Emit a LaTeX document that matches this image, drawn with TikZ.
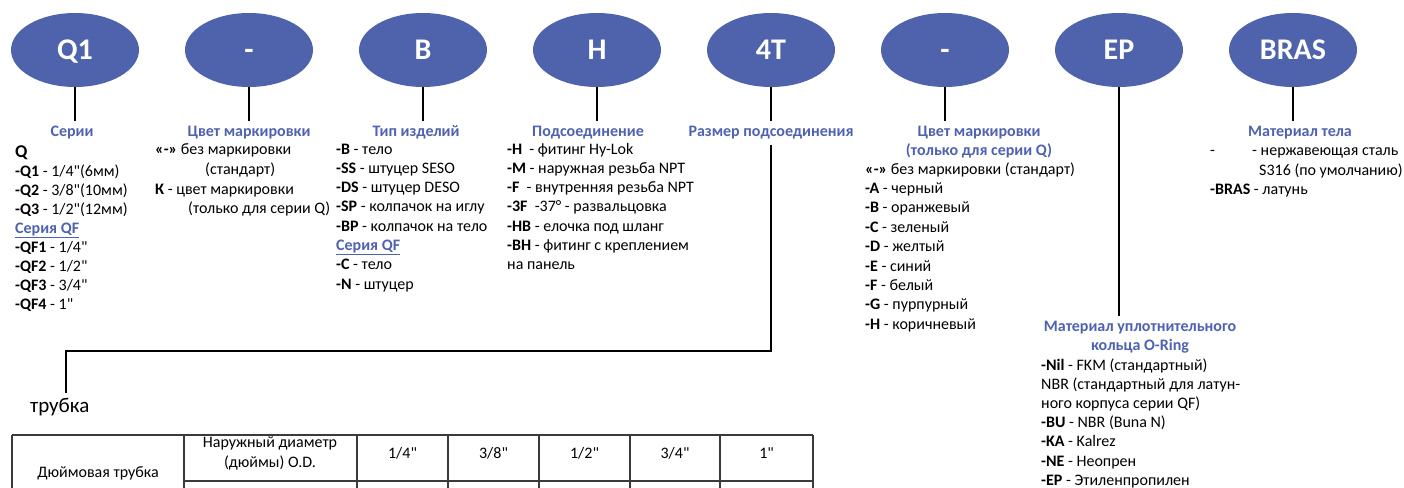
\documentclass[tikz,border=0pt]{standalone}
\usepackage{fontspec}
\setmainfont{Carlito}[Ligatures=TeXOff]
\usetikzlibrary{shapes.geometric}
\definecolor{ovalblue}{HTML}{4F62AC}
\definecolor{headblue}{HTML}{4F62B0}
\definecolor{gridgray}{HTML}{3A3A3A}
\begin{document}
\begin{tikzpicture}[x=1pt,y=-1pt,
 oval/.style={ellipse,fill=ovalblue,minimum width=128pt,minimum height=74pt,inner sep=0pt,text=white,text height=19pt,text depth=0pt,font=\fontsize{30}{30}\selectfont\bfseries},
 head/.style={text=headblue,font=\fontsize{16}{19}\selectfont\bfseries,inner sep=0pt,anchor=base},
 item/.style={font=\fontsize{16}{19}\selectfont,inner sep=0pt,anchor=base west,text=black},
 conn/.style={draw=black,line width=1.1pt},
 gridline/.style={draw=gridgray,line width=1.3pt},
 cell/.style={font=\fontsize{16}{20}\selectfont,inner sep=0pt,align=center,text=black}]
\useasboundingbox (0,0) rectangle (1404,487);
% ovals
\node[oval] (e1) at (75,50) {Q1};
\node[oval] (e2) at (249,50) {-};
\node[oval] (e3) at (423,50) {B};
\node[oval] (e4) at (597,50) {H};
\node[oval] (e5) at (771,50) {4T};
\node[oval] (e6) at (945,50) {-};
\node[oval] (e7) at (1119,50) {EP};
\node[oval] (e8) at (1293,50) {BRAS};
% headings
\node[head] (h1) at (72,136) {Серии};
\node[head] (h2) at (249,136) {Цвет маркировки};
\node[head] (h3) at (416,136) {Тип изделий};
\node[head] (h4) at (588,136) {Подсоединение};
\node[head] (h5) at (771,136) {Размер подсоединения};
\node[head] (h6a) at (979,136) {Цвет маркировки};
\node[head] (h6b) at (979,155) {(только для серии Q)};
\node[head] (h7a) at (1140,331) {Материал уплотнительного};
\node[head] (h7b) at (1140,350) {кольца O-Ring};
\node[head] (h8) at (1300,136) {Материал тела};
% connectors
\draw[conn,shorten >=4pt] (e1.south) -- (e1.south |- h1.north);
\draw[conn,shorten >=4pt] (e2.south) -- (e2.south |- h2.north);
\draw[conn,shorten >=4pt] (e3.south) -- (e3.south |- h3.north);
\draw[conn,shorten >=4pt] (e4.south) -- (e4.south |- h4.north);
\draw[conn,shorten >=4pt] (e5.south) -- (e5.south |- h5.north);
\draw[conn,shorten >=4pt] (e6.south) -- (e6.south |- h6a.north);
\draw[conn,shorten >=4pt] (e7.south) -- (e7.south |- h7a.north);
\draw[conn,shorten >=4pt] (e8.south) -- (e8.south |- h8.north);
\node[inner sep=0pt,anchor=base west,font=\fontsize{21}{22}\selectfont] (tube) at (30,412) {трубка};
\coordinate (c1) at (771,351);
\coordinate (c2) at (66,351);
\draw[conn,shorten <=6pt,shorten >=5pt] (e5.south |- h5.south) -- (c1) -- (c2) -- (c2 |- tube.north);
% column 1
\node[item,font=\fontsize{18}{19}\selectfont\bfseries] (q0) at (15,157) {Q};
\node[item] (q1) at (15,176) {\textbf{-Q1} - 1/4"(6мм)};
\node[item] (q2) at (15,195) {\textbf{-Q2} - 3/8"(10мм)};
\node[item] (q3) at (15,214) {\textbf{-Q3} - 1/2"(12мм)};
\node[item] (q4) at (15,233) {\textcolor{headblue}{\textbf{\underline{Серия QF}}}};
\node[item] (q5) at (15,252) {\textbf{-QF1} - 1/4"};
\node[item] (q6) at (15,271) {\textbf{-QF2} - 1/2"};
\node[item] (q7) at (15,290) {\textbf{-QF3} - 3/4"};
\node[item] (q8) at (15,309) {\textbf{-QF4} - 1"};
% column 2
\node[item] (m1) at (155,154) {\textbf{«-»} без маркировки};
\node[item] (m2) at (205,174) {(стандарт)};
\node[item] (m3) at (155,194) {\textbf{К} - цвет маркировки};
\node[item] (m4) at (188,213) {(только для серии Q)};
% column 3
\node[item] (t1) at (336,154) {\textbf{-B} - тело};
\node[item] (t2) at (336,173.3) {\textbf{-SS} - штуцер SESO};
\node[item] (t3) at (336,192.6) {\textbf{-DS} - штуцер DESO};
\node[item] (t4) at (336,211.9) {\textbf{-SP} - колпачок на иглу};
\node[item] (t5) at (336,231.2) {\textbf{-BP} - колпачок на тело};
\node[item] (t6) at (336,250.5) {\textcolor{headblue}{\textbf{\underline{Серия QF}}}};
\node[item] (t7) at (336,269.8) {\textbf{-C} - тело};
\node[item] (t8) at (336,289.1) {\textbf{-N} - штуцер};
% column 4
\node[item] (p1) at (507,154) {\textbf{-H}\ \ - фитинг Hy-Lok};
\node[item] (p2) at (507,173.3) {\textbf{-M} - наружная резьба NPT};
\node[item] (p3) at (507,192.6) {\textbf{-F}\ \ - внутренняя резьба NPT};
\node[item] (p4) at (507,211.9) {\textbf{-3F}\ \ -37° - развальцовка};
\node[item] (p5) at (507,231.2) {\textbf{-HB} - елочка под шланг};
\node[item] (p6) at (507,250.5) {\textbf{-BH} - фитинг с креплением};
\node[item] (p7) at (507,269.8) {на панель};
% column 6
\node[item] (k1) at (865,174) {\textbf{«-»} без маркировки (стандарт)};
\node[item] (k2) at (865,193.4) {\textbf{-A} - черный};
\node[item] (k3) at (865,212.8) {\textbf{-B} - оранжевый};
\node[item] (k4) at (865,232.2) {\textbf{-C} - зеленый};
\node[item] (k5) at (865,251.6) {\textbf{-D} - желтый};
\node[item] (k6) at (865,271) {\textbf{-E} - синий};
\node[item] (k7) at (865,290.4) {\textbf{-F} - белый};
\node[item] (k8) at (865,309.8) {\textbf{-G} - пурпурный};
\node[item] (k9) at (865,329.2) {\textbf{-H} - коричневый};
% column 8
\node[item] (b1) at (1210,155) {-};
\node[item] (b2) at (1252,155) {- нержавеющая сталь};
\node[item] (b3) at (1259,175) {S316 (по умолчанию)};
\node[item] (b4) at (1210,194) {\textbf{-BRAS} - латунь};
% column 7
\node[item] (r1) at (1041,370) {\textbf{-Nil} - FKM (стандартный)};
\node[item] (r2) at (1041,389) {NBR (стандартный для латун-};
\node[item] (r3) at (1041,408) {ного корпуса серии QF)};
\node[item] (r4) at (1041,427) {\textbf{-BU} - NBR (Buna N)};
\node[item] (r5) at (1041,446) {\textbf{-KA} - Kalrez};
\node[item] (r6) at (1041,466) {\textbf{-NE} - Неопрен};
\node[item] (r7) at (1041,485) {\textbf{-EP} - Этиленпропилен};
% table
\draw[gridline] (12,435) -- (813,435);
\draw[gridline] (184,481) -- (813,481);
\foreach \xx in {12,184,357,448,539,630,720,813}
  \draw[gridline] (\xx,435) -- (\xx,488);
\node[cell] (tc1) at (98,473) {Дюймовая трубка};
\node[cell] (tc2) at (270,453) {Наружный диаметр\\(дюймы) O.D.};
\node[cell] (tc3) at (402.5,453) {1/4"};
\node[cell] (tc4) at (493.5,453) {3/8"};
\node[cell] (tc5) at (584.5,453) {1/2"};
\node[cell] (tc6) at (675,453) {3/4"};
\node[cell] (tc7) at (766.5,453) {1"};
\end{tikzpicture}
\end{document}
